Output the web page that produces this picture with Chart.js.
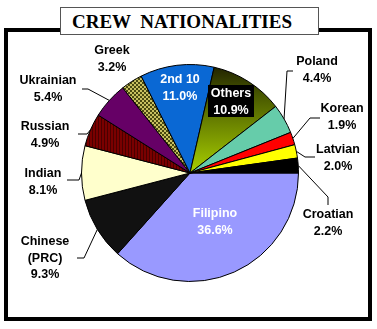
<!DOCTYPE html>
<html>
<head>
<meta charset="utf-8">
<script src="https://cdn.jsdelivr.net/npm/chart.js@4/dist/chart.umd.min.js"></script>
<style>
  body { margin: 0; background: #fff; }
  #wrap { position: relative; width: 377px; height: 329px; overflow: hidden; }
  #frame { position: absolute; left: 4px; top: 28px; width: 360px; height: 285px; border: 4px solid #000; }
  #chart { position: absolute; left: 0; top: 0; }
  #title {
    position: absolute; left: 60px; top: 7px; width: 259px; height: 28px;
    border: 1px solid #555; background: #fff; box-sizing: border-box;
    font: bold 19px "Liberation Serif", "Times New Roman", serif;
    line-height: 27px; padding-left: 11px; white-space: pre; color: #000;
  }
</style>
</head>
<body>
<div id="wrap">
  <div id="frame"></div>
  <canvas id="chart" width="377" height="329"></canvas>
  <div id="title">CREW  NATIONALITIES</div>
</div>
<script>
// data, clockwise from 3 o'clock
const nationalities = ['Filipino', 'Chinese (PRC)', 'Indian', 'Russian', 'Ukrainian', 'Greek',
  '2nd 10', 'Others', 'Poland', 'Korean', 'Latvian', 'Croatian'];
const shares = [36.6, 9.3, 8.1, 4.9, 5.4, 3.2, 11.0, 10.9, 4.4, 1.9, 2.0, 2.2];

// label text lines (value appended below)
const labelNames = [['Filipino'], ['Chinese', '(PRC)'], ['Indian'], ['Russian'], ['Ukrainian'], ['Greek'],
  ['2nd 10'], ['Others'], ['Poland'], ['Korean'], ['Latvian'], ['Croatian']];

// layout for labels: text centre x, first line y, text colour, leader points (elbow, end)
const labelLayout = [
  { x: 215, y: 214, color: '#fff' },
  { x: 45, y: 242, color: '#000', lead: [[84, 258], [77, 258]] },
  { x: 43, y: 174, color: '#000', lead: [[79, 180], [67, 180]] },
  { x: 45, y: 127, color: '#000', lead: [[87, 134], [78, 134]] },
  { x: 48, y: 81, color: '#000', lead: [[88, 89], [82, 89]] },
  { x: 112, y: 51, color: '#000' },
  { x: 180, y: 80, color: '#fff' },
  { x: 231, y: 94, color: '#fff', box: [208, 85, 46, 32] },
  { x: 317, y: 62, color: '#000', lead: [[287, 71], [293, 71]] },
  { x: 342, y: 109, color: '#000', lead: [[310, 118], [320, 118]] },
  { x: 338, y: 150, color: '#000', lead: [[305, 157], [315, 157]] },
  { x: 328, y: 215, color: '#000', lead: [[328, 197], [328, 205]] }
];

function makePattern(size, draw) {
  const c = document.createElement('canvas');
  c.width = size; c.height = size;
  draw(c.getContext('2d'));
  return document.getElementById('chart').getContext('2d').createPattern(c, 'repeat');
}

const russianStripes = makePattern(3, g => {
  g.fillStyle = '#7a0000'; g.fillRect(0, 0, 3, 3);
  g.fillStyle = '#4a0000'; g.fillRect(2, 0, 1, 3);
});
const greekDots = makePattern(4, g => {
  g.fillStyle = '#c8c060'; g.fillRect(0, 0, 4, 4);
  g.fillStyle = '#4a4a10'; g.fillRect(0, 0, 2, 2); g.fillRect(2, 2, 2, 2);
});

const sliceColors = ['#9999ff', '#111111', '#ffffcc', russianStripes, '#660066', greekDots,
  '#0a68d4', 'gradient', '#66ccaa', '#ff0000', '#ffff00', '#000000'];

function sliceFill(context) {
  const c = sliceColors[context.dataIndex];
  if (c !== 'gradient') return c;
  const chart = context.chart;
  const area = chart.chartArea;
  if (!area) return '#80a000';
  const g = chart.ctx.createLinearGradient(0, area.top, 0, (area.top + area.bottom) / 2);
  g.addColorStop(0, '#1e1e00');
  g.addColorStop(0.3, '#4a5a00');
  g.addColorStop(1, '#a8d000');
  return g;
}

const labelPlugin = {
  id: 'sliceLabels',
  afterDatasetsDraw(chart) {
    const ctx = chart.ctx;
    const arcs = chart.getDatasetMeta(0).data;
    ctx.save();
    ctx.font = 'bold 12.5px "Liberation Sans", Arial, sans-serif';
    ctx.textAlign = 'center';
    ctx.textBaseline = 'middle';
    labelLayout.forEach((lay, i) => {
      const arc = arcs[i];
      if (lay.lead) {
        const mid = (arc.startAngle + arc.endAngle) / 2;
        const px = arc.x + Math.cos(mid) * arc.outerRadius;
        const py = arc.y + Math.sin(mid) * arc.outerRadius;
        ctx.beginPath();
        ctx.moveTo(px, py);
        lay.lead.forEach(p => ctx.lineTo(p[0], p[1]));
        ctx.strokeStyle = '#000';
        ctx.lineWidth = 1;
        ctx.stroke();
      }
      if (lay.box) {
        ctx.fillStyle = '#000';
        ctx.fillRect(lay.box[0], lay.box[1], lay.box[2], lay.box[3]);
      }
      const lines = labelNames[i].concat([shares[i].toFixed(1) + '%']);
      ctx.fillStyle = lay.color;
      lines.forEach((t, k) => ctx.fillText(t, lay.x, lay.y + k * 16.5));
    });
    ctx.restore();
  }
};

new Chart(document.getElementById('chart'), {
  type: 'pie',
  data: {
    labels: nationalities,
    datasets: [{
      data: shares,
      backgroundColor: sliceFill,
      borderColor: '#000',
      borderWidth: 1
    }]
  },
  options: {
    responsive: false,
    animation: false,
    rotation: 90,
    layout: { padding: { left: 81, right: 78, top: 64, bottom: 47 } },
    plugins: {
      legend: { display: false },
      tooltip: { enabled: false }
    }
  },
  plugins: [labelPlugin]
});
</script>
</body>
</html>
